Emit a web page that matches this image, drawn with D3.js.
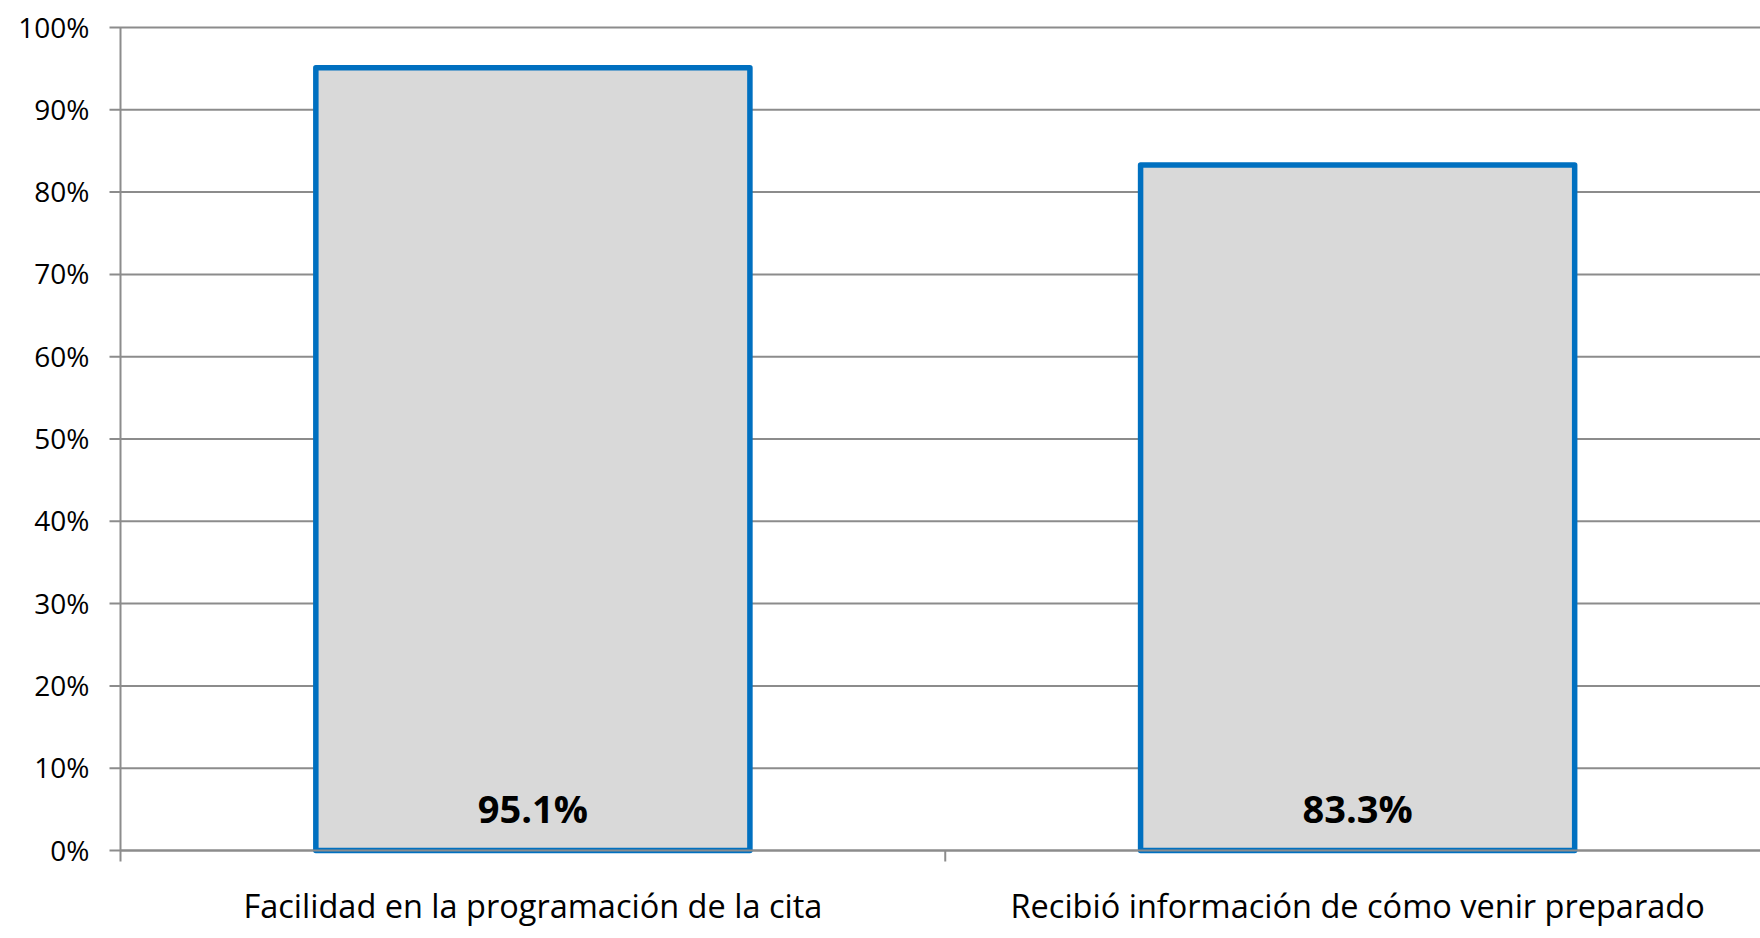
<!DOCTYPE html>
<html>
<head>
<meta charset="utf-8">
<script src="https://cdn.jsdelivr.net/npm/d3@7"></script>
<style>
  body { margin: 0; background: #fff; }
  svg { display: block; }
  text { font-family: "Open Sans", "Liberation Sans", sans-serif; fill: #000; }
</style>
</head>
<body>
<script>
// Chart data
var categories = ["Facilidad en la programación de la cita", "Recibió información de cómo venir preparado"];
var values = [0.951, 0.833];
var valueLabels = ["95.1%", "83.3%"];
var yTicks = [0, 0.1, 0.2, 0.3, 0.4, 0.5, 0.6, 0.7, 0.8, 0.9, 1.0];

// SVG area
var svgWidth = 1760;
var svgHeight = 938;

var margin = { top: 27.5, right: -10, bottom: 87.5, left: 120.5 };
var chartWidth = svgWidth - margin.left - margin.right;
var chartHeight = svgHeight - margin.top - margin.bottom;

var svg = d3.select("body")
  .append("svg")
  .attr("width", svgWidth)
  .attr("height", svgHeight);

var g = svg.append("g")
  .attr("transform", "translate(" + margin.left + "," + margin.top + ")");

var x = d3.scaleBand()
  .domain(categories)
  .range([0, chartWidth])
  .paddingInner(0.9 / 1.9)
  .paddingOuter(0.45 / 1.9);

var xCat = d3.scaleBand()
  .domain(categories)
  .range([0, chartWidth]);

var y = d3.scaleLinear()
  .domain([0, 1])
  .range([chartHeight, 0]);

var gridColor = "#8c8c8c";

// horizontal gridlines
g.selectAll(".grid")
  .data(yTicks)
  .enter()
  .append("line")
  .attr("class", "grid")
  .attr("x1", -11)
  .attr("x2", chartWidth)
  .attr("y1", function(d) { return y(d); })
  .attr("y2", function(d) { return y(d); })
  .attr("stroke", gridColor)
  .attr("stroke-width", 2);

// y labels
g.selectAll(".ylab")
  .data(yTicks)
  .enter()
  .append("text")
  .attr("class", "ylab")
  .attr("x", -31)
  .attr("y", function(d) { return y(d); })
  .attr("dy", "0.36em")
  .attr("text-anchor", "end")
  .style("font-size", "28px")
  .text(function(d) { return d3.format(".0%")(d); });

// bars
g.selectAll(".bar")
  .data(values)
  .enter()
  .append("rect")
  .attr("class", "bar")
  .attr("x", function(d, i) { return x(categories[i]); })
  .attr("y", function(d) { return y(d); })
  .attr("width", x.bandwidth())
  .attr("height", function(d) { return chartHeight - y(d); })
  .attr("fill", "#d9d9d9")
  .attr("stroke", "#0070c0")
  .attr("stroke-width", 5.5)
  .attr("stroke-linejoin", "round");

// value labels
g.selectAll(".vlab")
  .data(valueLabels)
  .enter()
  .append("text")
  .attr("class", "vlab")
  .attr("x", function(d, i) { return x(categories[i]) + x.bandwidth() / 2; })
  .attr("y", chartHeight - 28)
  .attr("text-anchor", "middle")
  .style("font-size", "38px")
  .style("font-weight", "bold")
  .text(function(d) { return d; });

// y axis line
g.append("line")
  .attr("x1", 0).attr("x2", 0)
  .attr("y1", 0).attr("y2", chartHeight + 11)
  .attr("stroke", gridColor)
  .attr("stroke-width", 2);

// x axis line + category ticks
g.append("line")
  .attr("x1", 0).attr("x2", chartWidth)
  .attr("y1", chartHeight).attr("y2", chartHeight)
  .attr("stroke", gridColor)
  .attr("stroke-width", 2);

g.selectAll(".xtick")
  .data(categories)
  .enter()
  .append("line")
  .attr("class", "xtick")
  .attr("x1", function(d) { return xCat(d) + xCat.bandwidth(); })
  .attr("x2", function(d) { return xCat(d) + xCat.bandwidth(); })
  .attr("y1", chartHeight)
  .attr("y2", chartHeight + 11)
  .attr("stroke", gridColor)
  .attr("stroke-width", 2);

// category labels
g.selectAll(".xlab")
  .data(categories)
  .enter()
  .append("text")
  .attr("class", "xlab")
  .attr("x", function(d) { return xCat(d) + xCat.bandwidth() / 2; })
  .attr("y", chartHeight + 67.5)
  .attr("text-anchor", "middle")
  .style("font-size", "32.5px")
  .text(function(d) { return d; });
</script>
</body>
</html>
